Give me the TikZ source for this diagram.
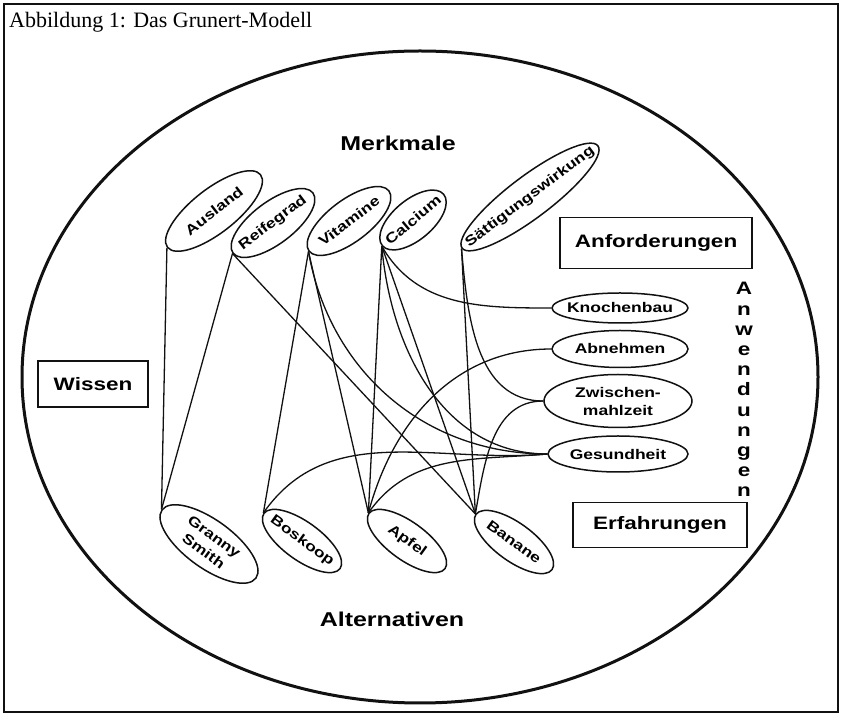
\documentclass[tikz,border=0pt]{standalone}
\usepackage{fontspec}
\setmainfont{Liberation Serif}
\newfontfamily\lblfont[FakeStretch=1.25]{Liberation Sans}
\usepackage{xcolor}
\definecolor{cInk}{HTML}{111111}
\usepackage{tikz}
\usetikzlibrary{shapes.geometric}
\tikzset{
  node-feat/.style={draw=cInk,line width=1.5pt,ellipse,inner sep=-60pt,
    minimum width=100pt,minimum height=42pt,align=center,
    font=\lblfont\bfseries\fontsize{14}{18}\selectfont},
  node-alt/.style={node-feat,minimum width=94pt,minimum height=38pt},
  node-use/.style={node-feat,minimum width=136pt,minimum height=34pt},
  node-box/.style={draw=cInk,line width=1.1pt,inner sep=0pt,
    font=\lblfont\bfseries\fontsize{18}{18}\selectfont},
  node-title/.style={inner sep=0pt,font=\lblfont\bfseries\fontsize{20}{20}\selectfont},
  node-letter/.style={inner sep=0pt,anchor=base,
    font=\lblfont\bfseries\fontsize{18}{18}\selectfont},
  link/.style={draw=cInk,line width=1.3pt},
}

\begin{document}
\begin{tikzpicture}[x=1pt,y=1pt]
  \useasboundingbox (0,0) rectangle (841,715);
  \draw[cInk,line width=1.1pt] (4,3) rectangle (838,711);
  \node[anchor=base west,inner sep=0pt,font=\fontsize{22}{22}\selectfont] (cap) at (9,687)
    {Abbildung 1: Das Grunert-Modell};
  \draw[cInk,line width=3pt] (420,338) ellipse [x radius=398,y radius=326];

  % Merkmale
  \node[node-title] (merk) at (398,572) {Merkmale};
  \node[node-feat,rotate=38,minimum width=118pt,minimum height=44pt] (ausland) at (214,504) {Ausland};
  \node[node-feat,rotate=37] (reife) at (273,492) {Reifegrad};
  \node[node-feat,rotate=37] (vit) at (349,494) {Vitamine};
  \node[node-feat,rotate=40,minimum width=80pt,minimum height=40pt] (calc) at (413,495) {Calcium};
  \node[node-feat,rotate=37,minimum width=170pt] (saett) at (530,518) {S\"attigungswirkung};

  % Alternativen
  \node[node-title] (altern) at (392,96) {Alternativen};
  \node[node-alt,rotate=-36,minimum width=116pt,minimum height=48pt] (granny) at (209,171) {Granny\\Smith};
  \node[node-alt,rotate=-36] (boskoop) at (302,174) {Boskoop};
  \node[node-alt,rotate=-36] (apfel) at (407,174) {Apfel};
  \node[node-alt,rotate=-36] (banane) at (514,173) {Banane};

  % Anwendungen
  \node[node-use,minimum height=30pt] (knochen) at (620,407) {Knochenbau};
  \node[node-use,minimum height=37pt] (abnehm) at (620,366) {Abnehmen};
  \node[node-use,minimum width=148pt,minimum height=53pt] (zwisch) at (618,314) {Zwischen-\\mahlzeit};
  \node[node-use,minimum width=140pt,minimum height=36pt] (gesund) at (618,261) {Gesundheit};
  \foreach \anwch [count=\i] in {A,n,w,e,n,d,u,n,g,e,n}
    \node[node-letter] (anw\i) at (744,{420-(\i-1)*20.2}) {\anwch};

  % Kaesten
  \node[node-box,minimum width=110pt,minimum height=46pt] (wissen) at (93,331) {Wissen};
  \node[node-box,minimum width=192pt,minimum height=51pt] (anford) at (656,472) {Anforderungen};
  \node[node-box,minimum width=174pt,minimum height=45pt] (erfahr) at (660,190) {Erfahrungen};

  % Verknuepfungen
  \draw[link] (ausland.west) -- (granny.west);
  \draw[link] (reife.west) -- (granny.west);
  \draw[link] (reife.west) -- (banane.west);
  \draw[link] (vit.west) -- (boskoop.west);
  \draw[link] (vit.west) -- (apfel.west);
  \draw[link] (vit.west) to[out=-80,in=180] (gesund.west);
  \draw[link] (calc.west) -- (apfel.west);
  \draw[link] (calc.west) -- (banane.west);
  \draw[link] (calc.west) to[out=-60,in=180] (knochen.west);
  \draw[link] (calc.west) to[out=-85,in=180] (gesund.west);
  \draw[link] (saett.west) -- (banane.west);
  \draw[link] (saett.west) to[out=-85,in=180] (zwisch.west);
  \draw[link] (boskoop.west) to[out=55,in=185] (gesund.west);
  \draw[link] (apfel.west) to[out=55,in=185] (gesund.west);
  \draw[link] (apfel.west) to[out=75,in=180] (abnehm.west);
  \draw[link] (banane.west) to[out=80,in=180] (zwisch.west);
\end{tikzpicture}
\end{document}
